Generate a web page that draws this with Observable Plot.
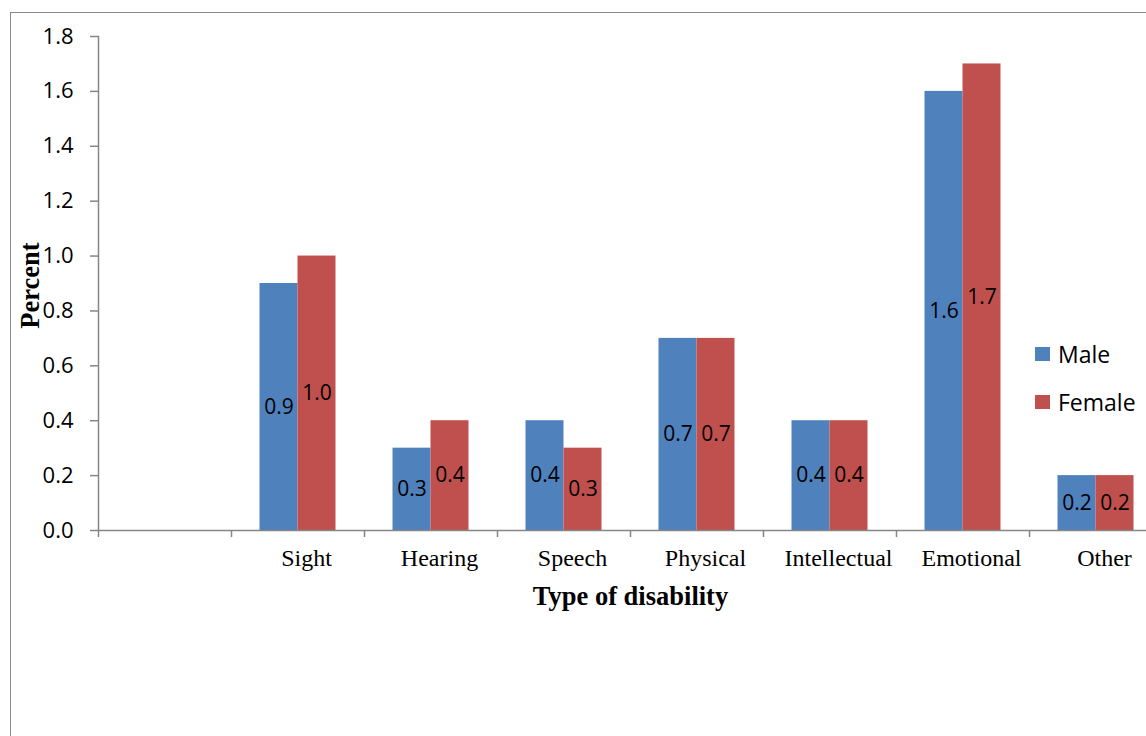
<!DOCTYPE html>
<html>
<head>
<meta charset="utf-8">
<script src="https://cdn.jsdelivr.net/npm/d3@7"></script>
<script src="https://cdn.jsdelivr.net/npm/@observablehq/plot@0.6"></script>
<style>
  html, body { margin: 0; padding: 0; background: #fff; overflow: hidden; width: 1146px; height: 736px; }
  #wrap { position: relative; width: 1146px; height: 736px; overflow: hidden; }
  #border { position: absolute; left: 10px; top: 12px; width: 1200px; height: 800px; border-left: 1.5px solid #8a8a8a; border-top: 1.5px solid #8a8a8a; pointer-events: none; }
  #chart { position: absolute; left: 0; top: 0; width: 1162px; }
  #chart svg { max-width: none !important; }
  #legend { position: absolute; left: 1035px; top: 340px; font-family: "Open Sans", sans-serif; font-size: 23px; color: #000; }
  .item { display: flex; align-items: center; height: 28px; margin-bottom: 20px; }
  .sw { width: 15px; height: 14px; margin-right: 8px; }
</style>
</head>
<body>
<div id="wrap">
  <div id="border"></div>
  <div id="chart"></div>
  <div id="legend"></div>
</div>
<script>
const categories = ["", "Sight", "Hearing", "Speech", "Physical", "Intellectual", "Emotional", "Other"];
const series = ["Male", "Female"];
const maleValues = [null, 0.9, 0.3, 0.4, 0.7, 0.4, 1.6, 0.2];
const femaleValues = [null, 1.0, 0.4, 0.3, 0.7, 0.4, 1.7, 0.2];
const colors = ["#4F81BD", "#C0504D"];
const yTicks = [0, 0.2, 0.4, 0.6, 0.8, 1.0, 1.2, 1.4, 1.6, 1.8];
const xTitle = "Type of disability";
const yTitle = "Percent";

const rows = categories.flatMap((c, i) => [
  {category: c, series: "Male", value: maleValues[i]},
  {category: c, series: "Female", value: femaleValues[i]}
]).filter(d => d.value != null);
const male = rows.filter(d => d.series === "Male");
const female = rows.filter(d => d.series === "Female");

const axisGray = "#868686";
const sans = "'Open Sans', sans-serif";
const serif = "'Liberation Serif', 'Times New Roman', serif";

const chart = Plot.plot({
  width: 1162,
  height: 736,
  marginLeft: 98,
  marginRight: 0,
  marginTop: 36,
  marginBottom: 206,
  style: {background: "transparent", color: "#000", fontFamily: sans, maxWidth: "none"},
  x: {domain: categories, padding: 0, label: null},
  y: {domain: [0, 1.8], label: null},
  color: {domain: series, range: colors},
  marks: [
    Plot.barY(male, {x: "category", y: "value", fill: "series", insetLeft: 28.5, insetRight: 66.5}),
    Plot.barY(female, {x: "category", y: "value", fill: "series", insetLeft: 66.5, insetRight: 28.5}),
    Plot.text(male, {x: "category", y: d => d.value / 2, text: d => d3.format(".1f")(d.value), dx: -19, fontSize: 21, fontFamily: sans, fill: "#000"}),
    Plot.text(female, {x: "category", y: d => d.value / 2, text: d => d3.format(".1f")(d.value), dx: 19, fontSize: 21, fontFamily: sans, fill: "#000"}),
    Plot.frame({anchor: "left", stroke: axisGray, strokeWidth: 1.5}),
    Plot.ruleY([0], {stroke: axisGray, strokeWidth: 1.5}),
    Plot.axisY({ticks: yTicks, tickFormat: d3.format(".1f"), tickSize: 8, tickPadding: 17, stroke: axisGray, strokeWidth: 1.5, fontSize: 22, fontFamily: sans, fill: "#000", label: null}),
    Plot.axisX({ticks: categories, tickSize: 7, tickFormat: () => "", dx: -66.5, stroke: axisGray, strokeWidth: 1.5, label: null}),
    Plot.axisX({ticks: categories, tickSize: 0, tickPadding: 18, dx: 8.5, fontSize: 24, fontFamily: serif, fill: "#000", label: null}),
    Plot.text([xTitle], {frameAnchor: "bottom", text: d => d, dy: 74, fontSize: 26.5, fontWeight: "bold", fontFamily: serif, fill: "#000"}),
    Plot.text([yTitle], {frameAnchor: "left", textAnchor: "middle", text: d => d, rotate: -90, dx: -68, dy: 2, fontSize: 26.5, fontWeight: "bold", fontFamily: serif, fill: "#000"})
  ]
});
chart.style.maxWidth = "none";
chart.setAttribute("width", 1162);
document.getElementById("chart").appendChild(chart);

const legend = document.getElementById("legend");
series.forEach((s, i) => {
  const item = document.createElement("div");
  item.className = "item";
  const sw = document.createElement("div");
  sw.className = "sw";
  sw.style.background = colors[i];
  const label = document.createElement("span");
  label.textContent = s;
  item.appendChild(sw);
  item.appendChild(label);
  legend.appendChild(item);
});
</script>
</body>
</html>
